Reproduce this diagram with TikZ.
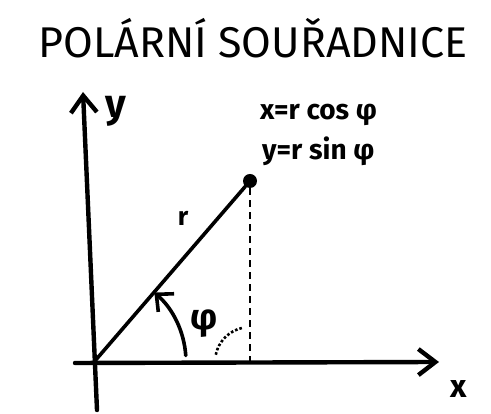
\documentclass[tikz,border=0pt]{standalone}
\usepackage{fontspec}
\setmainfont{Fira Sans}
\usetikzlibrary{arrows.meta}
\tikzset{
  axis/.style={line width=4.4pt, line cap=round, line join=round},
  vec/.style={line width=3.6pt, line cap=round, line join=round},
  barb/.style={-{Straight Barb[length=17pt,width=26pt,line width=4.4pt]}},
  lbl/.style={font=\fontsize{32}{32}\selectfont\bfseries, inner sep=0pt},
  formula/.style={font=\fontsize{28}{28}\selectfont\bfseries, inner sep=0pt, anchor=west},
  titlestyle/.style={font=\fontsize{43}{43}\selectfont, inner sep=0pt},
  dot/.style={circle, fill=black, minimum size=14pt, inner sep=0pt},
}
\begin{document}
\begin{tikzpicture}[x=1pt,y=1pt]
\useasboundingbox (0,0) rectangle (491,414);
\node[titlestyle] (title) at (253,376) {POLÁRNÍ SOUŘADNICE};
\coordinate (O) at (94,52);
\coordinate (ybot) at (97,4);
\coordinate (ytop) at (83,322);
\coordinate (xl) at (75,51);
\coordinate (xr) at (439,52);
\draw[axis,barb] (ybot) -- (ytop);
\draw[axis,barb] (xl) -- (xr);
\node[lbl, font=\fontsize{40}{40}\selectfont\bfseries] (ylab) at (116,303) {y};
\node[lbl] (xlab) at (459,25) {x};
\node[dot] (P) at (250,233) {};
\draw[vec] (O) -- (P);
\coordinate (F) at (250,52);
\draw[line width=2.4pt, dash pattern=on 7pt off 5pt] (P) -- (F);
\node[lbl, font=\fontsize{26}{26}\selectfont\bfseries] (rlab) at (183,196) {r};
\node[lbl, font=\fontsize{36}{36}\selectfont\bfseries] (philab) at (204,90) {φ};
\draw[vec,-{Straight Barb[length=13pt,width=24pt,line width=3.6pt]}] (O) ++(4:92pt) arc[start angle=4,end angle=49,radius=92pt];
\draw[line width=2.6pt, dotted] (F) ++(168:35pt) arc[start angle=168,end angle=102,radius=35pt];
\node[formula] (fx) at (260,299) {x=r cos φ};
\node[formula] (fy) at (262,263) {y=r sin φ};
\end{tikzpicture}
\end{document}
